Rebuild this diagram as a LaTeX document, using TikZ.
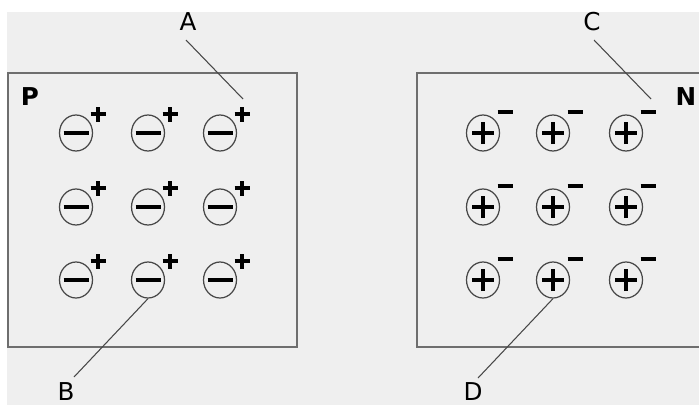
\documentclass[tikz,border=0pt]{standalone}
\usepackage{fontspec}
\setmainfont{DejaVu Sans}
\usetikzlibrary{shapes.geometric}
\definecolor{bggray}{HTML}{EFEFEF}
\definecolor{boxgray}{HTML}{6E6E6E}
\definecolor{ringgray}{HTML}{474747}
\tikzset{
  ion/.style={draw=ringgray, line width=0.7pt, ellipse, minimum width=0.66cm, minimum height=0.72cm, inner sep=0pt},
  sign/.style={line width=2.2pt, black},
  core/.style={line width=2.8pt, black},
  leader/.style={ringgray, line width=0.6pt},
  tag/.style={font=\fontsize{14}{16}\selectfont},
  side/.style={font=\fontsize{14}{16}\selectfont\bfseries}
}

\begin{document}
\begin{tikzpicture}

    \clip (0,0) rectangle (13.98,8.1);
    % Background
    \fill[bggray] (0.14,0) rectangle (13.98,7.86);

    % Draw the two blocks
    \draw[boxgray, line width=1.1pt] (0.16,1.16) rectangle (5.94,6.64);
    \draw[boxgray, line width=1.1pt] (14.2,6.64) -- (8.34,6.64) -- (8.34,1.16) -- (14.2,1.16);
    \node[side] (P) at (0.6,6.16) {P};
    \node[side] (N) at (13.72,6.16) {N};

    % P block: negative ions with holes
    \foreach \x/\i in {1.52/1,2.96/2,4.40/3} {
      \foreach \y/\j in {5.44/1,3.96/2,2.50/3} {
        \node[ion] (p\j\i) at (\x,\y) {};
        \draw[core] (\x-0.25,\y) -- (\x+0.25,\y);
        \draw[sign] (\x+0.29,\y+0.38) -- (\x+0.59,\y+0.38);
        \draw[sign] (\x+0.44,\y+0.23) -- (\x+0.44,\y+0.53);
      }
    }

    % N block: positive ions with electrons
    \foreach \x/\i in {9.66/1,11.06/2,12.52/3} {
      \foreach \y/\j in {5.44/1,3.96/2,2.50/3} {
        \node[ion] (n\j\i) at (\x,\y) {};
        \draw[sign] (\x-0.22,\y) -- (\x+0.22,\y);
        \draw[sign] (\x,\y-0.22) -- (\x,\y+0.22);
        \draw[core] (\x+0.29,\y+0.42) -- (\x+0.59,\y+0.42);
      }
    }

    % Labels and leader lines
    \node[tag] (A) at (3.76,7.66) {A};
    \node[tag] (C) at (11.84,7.66) {C};
    \node[tag, inner sep=0pt] (B) at (1.32,0.26) {B};
    \node[tag, inner sep=0pt] (D) at (9.46,0.26) {D};
    \coordinate (aEnd) at (4.86,6.12);
    \coordinate (cEnd) at (13.02,6.12);
    \coordinate (bEnd) at (1.48,0.56);
    \coordinate (dEnd) at (9.56,0.54);
    \draw[leader] (3.72,7.30) -- (aEnd);
    \draw[leader] (11.88,7.30) -- (cEnd);
    \draw[leader] (p32.south) -- (bEnd);
    \draw[leader] (n32.south) -- (dEnd);
\end{tikzpicture}
\end{document}
